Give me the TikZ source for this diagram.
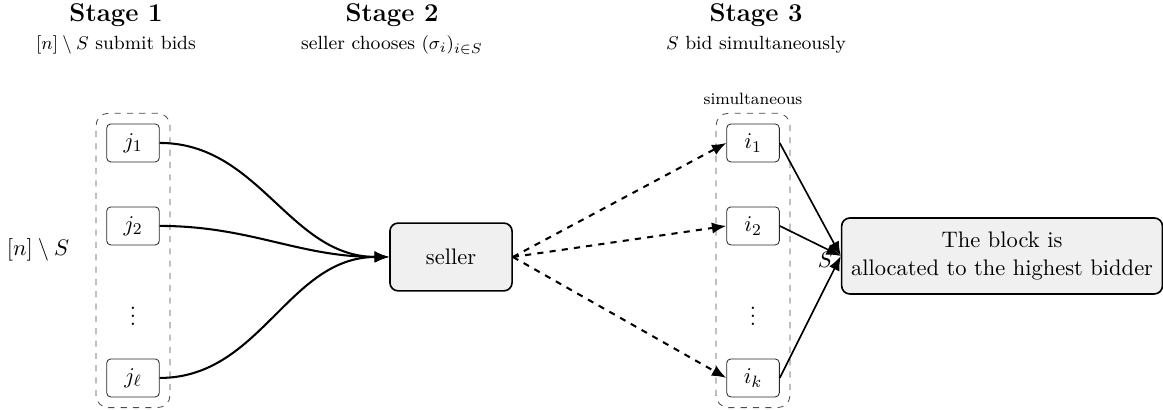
\documentclass[tikz,border=0pt,11pt]{standalone}
\usetikzlibrary{arrows.meta,fit}

\tikzset{
  bidder/.style={draw=black!85, rounded corners=2pt, minimum width=0.9cm, minimum height=0.65cm, inner sep=2pt},
  hub/.style={draw, thick, rounded corners=4pt, fill=gray!12, align=center},
  group/.style={draw=black!70, dashed, rounded corners=6pt, inner sep=5pt},
  bid/.style={-{Latex[length=7pt,width=5.5pt]}, line width=1pt},
  choice/.style={bid, dashed},
  award/.style={-{Latex[length=7pt,width=5.5pt]}, thick},
}

\begin{document}
\begin{tikzpicture}
    \useasboundingbox (0,0) rectangle (19.9,7.015);

    % stage headings
    \foreach \x/\n/\t in {1.985/1/{$[n]\setminus S$ submit bids},
                          6.708/2/{seller chooses $(\sigma_i)_{i\in S}$},
                          12.936/3/{$S$ bid simultaneously}} {
        \node[font=\fontsize{12.5}{15}\bfseries\selectfont] (title\n) at (\x, 6.75) {Stage \n};
        \node[font=\fontsize{9.3}{11}\selectfont] (sub\n) at (\x, 6.246) {\t};
    }

    % stage 1 bidders
    \foreach \k/\y/\lbl in {1/4.569/j_1, 2/3.149/j_2, l/0.548/j_\ell} {
        \node[bidder] (j\k) at (2.276, \y) {$\lbl$};
    }
    \node (jdots) at (2.276, 1.711) {$\vdots$};
    \node[group, fit=(j1)(jl)] (leftgroup) {};
    \node (rest) at (0.65, 2.74) {$[n]\setminus S$};

    % seller
    \node[hub, minimum width=2.09cm, minimum height=1.16cm] (seller) at (7.717, 2.618) {seller};

    % stage 3 bidders
    \foreach \k/\y/\lbl in {1/4.569/i_1, 2/3.149/i_2, k/0.548/i_k} {
        \node[bidder] (i\k) at (12.885, \y) {$\lbl$};
    }
    \node (idots) at (12.885, 1.711) {$\vdots$};
    \node[group, fit=(i1)(ik), label={[font=\scriptsize]above:simultaneous}] (rightgroup) {};

    % outcome
    \node[hub, minimum width=5.49cm, minimum height=1.30cm, label={[yshift=-2pt]left:$S$}] (outcome) at (17.146, 2.635)
        {The block is\\ allocated to the highest bidder};

    % connectors
    \foreach \k in {1,2,l} {
        \draw[bid] (j\k.east) to[out=0, in=180] (seller.west);
    }
    \foreach \k in {1,2,k} {
        \draw[choice] (seller.east) -- (i\k.west);
        \draw[award] (i\k.east) -- (outcome.west);
    }
\end{tikzpicture}
\end{document}
